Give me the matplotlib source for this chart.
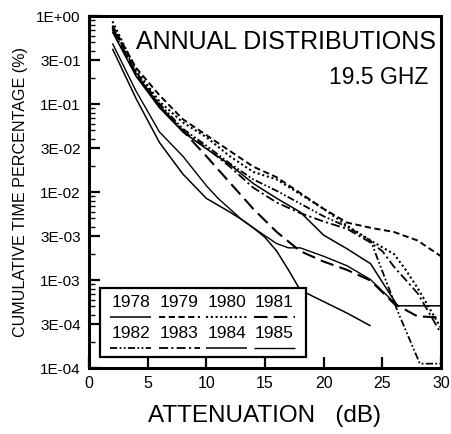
import matplotlib
matplotlib.use("Agg")
import matplotlib.pyplot as plt
from matplotlib.patches import Rectangle
from matplotlib.ticker import FixedLocator, LogLocator, NullFormatter

plt.rcParams['font.family'] = ['Liberation Sans', 'DejaVu Sans']

# Cumulative time percentage (%) vs attenuation (dB), one curve per year
db_1978 = [2, 4, 6, 8, 10, 12, 13, 14, 15, 16, 17, 18, 20, 22, 24]
p_1978 = [0.425, 0.116, 0.0366, 0.0160, 0.00847, 0.00592, 0.00488, 0.00392,
          0.00305, 0.00213, 0.00130, 0.000769, 0.000568, 0.000420, 0.000301]

db_1979 = [2, 4, 6, 8, 10, 12, 14, 16, 18, 20, 22, 24, 26, 28, 30]
p_1979 = [0.780, 0.259, 0.126, 0.0671, 0.0443, 0.0293, 0.0194, 0.0147,
          0.00973, 0.00643, 0.00449, 0.00392, 0.00351, 0.00281, 0.00186]

db_1980 = [2, 4, 6, 8, 10, 12, 14, 16, 18, 20, 22, 24, 26, 27, 28, 30]
p_1980 = [0.871, 0.245, 0.107, 0.0617, 0.0420, 0.0255, 0.0169, 0.0139,
          0.00946, 0.00643, 0.00414, 0.00281, 0.00197, 0.00130, 0.000813, 0.000285]

db_1981 = [2, 4, 6, 8, 10, 12, 14, 16, 18, 20, 22, 24, 26, 28, 30]
p_1981 = [0.738, 0.219, 0.0959, 0.0495, 0.0255, 0.0128, 0.00643, 0.00351,
          0.00213, 0.00162, 0.00130, 0.000986, 0.000538, 0.000386, 0.000376]

db_1982 = [2, 4, 6, 8, 10, 12, 14, 16, 18, 20, 22, 24, 26.3, 28.2, 30]
p_1982 = [0.759, 0.232, 0.101, 0.0523, 0.0336, 0.0211, 0.0139, 0.0103,
          0.00738, 0.00530, 0.00402, 0.00281, 0.000443, 0.000112, 0.000112]

db_1983 = [2, 4, 6, 8, 10, 12, 14, 16, 18, 20, 22, 24, 25, 26, 28, 30]
p_1983 = [0.699, 0.219, 0.0959, 0.0495, 0.0318, 0.0194, 0.0112, 0.00759,
          0.00576, 0.00462, 0.00381, 0.00266, 0.00213, 0.00141, 0.000709, 0.000248]

db_1984 = [2, 4, 6, 8, 10, 12, 13, 14, 16, 18, 20, 22, 24, 25.2, 26.3, 30]
p_1984 = [0.661, 0.208, 0.0908, 0.0482, 0.0310, 0.0205, 0.0160, 0.0125,
          0.00847, 0.00592, 0.00323, 0.00226, 0.00153, 0.000859, 0.000509, 0.000509]

db_1985 = [2, 4, 6, 8, 10, 11, 12, 13, 14, 16, 17, 18, 20, 22, 24, 26.3]
p_1985 = [0.488, 0.141, 0.0482, 0.0255, 0.0118, 0.00847, 0.00643, 0.00488,
          0.00392, 0.00259, 0.00232, 0.00232, 0.00186, 0.00145, 0.00101, 0.000509]

years = ['1978', '1979', '1980', '1981', '1982', '1983', '1984', '1985']
curves = [(db_1978, p_1978), (db_1979, p_1979), (db_1980, p_1980), (db_1981, p_1981),
          (db_1982, p_1982), (db_1983, p_1983), (db_1984, p_1984), (db_1985, p_1985)]

# line style per year
dash_styles = [
    (0, ()),                               # solid
    (0, (3.2, 1.8)),                       # short dashes
    (0, (1.0, 1.3)),                       # dotted
    (0, (6.5, 3.0)),                       # long dashes
    (0, (4.0, 1.3, 1.0, 1.3, 1.0, 1.3)),   # dash-dot-dot
    (0, (5.0, 1.8, 1.2, 1.8)),             # dash-dot
    (0, ()),                               # solid
    (0, ()),                               # solid
]
widths = [1.1, 1.4, 1.5, 1.5, 1.3, 1.3, 1.1, 1.0]

y_ticks = [1e0, 10**-0.5, 1e-1, 10**-1.5, 1e-2, 10**-2.5, 1e-3, 10**-3.5, 1e-4]
y_labels = ['1E+00', '3E-01', '1E-01', '3E-02', '1E-02', '3E-03', '1E-03', '3E-04', '1E-04']
x_ticks = [0, 5, 10, 15, 20, 25, 30]

fig = plt.figure(figsize=(4.52, 4.34), dpi=100)
ax = fig.add_axes([89 / 452, 1 - 368 / 434, 352 / 452, 352 / 434])

for (x, y), ls, lw in zip(curves, dash_styles, widths):
    ax.plot(x, y, color='black', linestyle=ls, linewidth=lw,
            solid_joinstyle='miter', dash_capstyle='butt')

ax.set_yscale('log')
ax.set_xlim(0, 30)
ax.set_ylim(1e-4, 1)

ax.yaxis.set_major_locator(FixedLocator(y_ticks))
ax.set_yticklabels(y_labels)
ax.yaxis.set_minor_locator(LogLocator(base=10, subs=(2, 4, 5, 6, 7, 8, 9)))
ax.yaxis.set_minor_formatter(NullFormatter())
ax.set_xticks(x_ticks)

ax.tick_params(axis='both', which='major', direction='in', length=8, width=1.6,
               colors='black', top=False, right=False)
ax.tick_params(axis='y', which='major', labelsize=11, pad=6)
ax.tick_params(axis='x', which='major', labelsize=11.5, pad=6)
ax.tick_params(axis='y', which='minor', direction='in', length=4, width=1.0,
               right=False)

for s in ax.spines.values():
    s.set_linewidth(2.2)

ax.set_xlabel('ATTENUATION   (dB)', fontsize=17.5, labelpad=10)
ax.set_ylabel('CUMULATIVE TIME PERCENTAGE (%)', fontsize=11.6, labelpad=6)

ax.text(0.985, 0.925, 'ANNUAL DISTRIBUTIONS', transform=ax.transAxes,
        ha='right', va='center', fontsize=18)
ax.text(0.965, 0.825, '19.5 GHZ', transform=ax.transAxes,
        ha='right', va='center', fontsize=16.5)

# key box with year labels above line samples
box_l, box_b, box_r, box_t = 0.031, 0.03, 0.616, 0.228
ax.add_patch(Rectangle((box_l, box_b), box_r - box_l, box_t - box_b,
                       transform=ax.transAxes, facecolor='white',
                       edgecolor='black', linewidth=1.6, zorder=5))
col_x = [0.119, 0.257, 0.391, 0.527]
row_text_y = [0.186, 0.097]
row_line_y = [0.146, 0.056]
half = 0.058
for i, (yr, ls, lw) in enumerate(zip(years, dash_styles, widths)):
    r, c = divmod(i, 4)
    ax.text(col_x[c], row_text_y[r], yr, transform=ax.transAxes,
            ha='center', va='center', fontsize=12.5, zorder=6)
    ax.plot([col_x[c] - half, col_x[c] + half], [row_line_y[r]] * 2,
            transform=ax.transAxes, color='black', linestyle=ls,
            linewidth=lw, zorder=6, clip_on=False)

fig.savefig('out.png', dpi=100)
